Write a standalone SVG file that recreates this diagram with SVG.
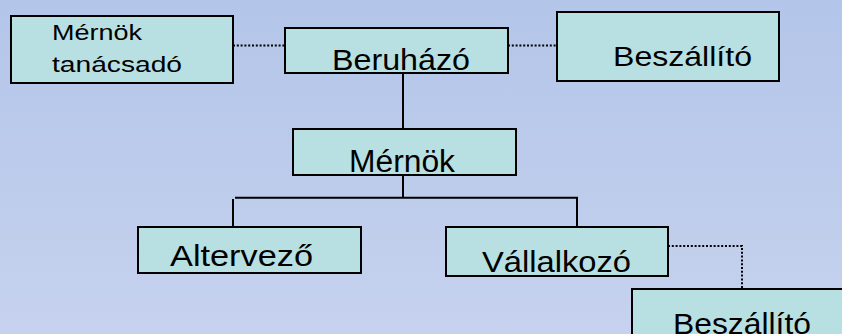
<svg xmlns="http://www.w3.org/2000/svg" width="842" height="334" viewBox="0 0 842 334">
<defs>
<linearGradient id="bg" x1="0" y1="0" x2="0" y2="1">
<stop offset="0" stop-color="#b3c5e9"/>
<stop offset="1" stop-color="#c6d2ee"/>
</linearGradient>
</defs>
<style>
.box{fill:#b8e0e2;stroke:#000;stroke-width:2}
.t{font-family:"Liberation Sans",Arial,sans-serif;fill:#000}
.solid{fill:none;stroke:#000;stroke-width:2}
.dot{fill:none;stroke:#000;stroke-width:2;stroke-dasharray:2 1.8}
</style>
<rect width="842" height="334" fill="url(#bg)"/>
<g id="connectors">
<path class="solid" d="M403 73V129M403 175V198M235 197.7H577V227M233 199V227"/>
<path class="dot" d="M233 45.5H285M508 45.5H557M668 246H742V289"/>
</g>
<g id="mernok-tanacsado">
<rect class="box" x="11" y="16" width="222" height="67"/>
<text class="t" x="52" y="40" font-size="22" textLength="90" lengthAdjust="spacingAndGlyphs">Mérnök</text>
<text class="t" x="52" y="72" font-size="22" textLength="130" lengthAdjust="spacingAndGlyphs">tanácsadó</text>
</g>
<g id="beruhazo">
<rect class="box" x="285" y="28" width="223" height="45"/>
<text class="t" x="332" y="69.5" font-size="30" textLength="138" lengthAdjust="spacingAndGlyphs">Beruházó</text>
</g>
<g id="beszallito-1">
<rect class="box" x="557" y="12" width="222" height="69"/>
<text class="t" x="613" y="66" font-size="27.5" textLength="139" lengthAdjust="spacingAndGlyphs">Beszállító</text>
</g>
<g id="mernok">
<rect class="box" x="293" y="129" width="223" height="46"/>
<text class="t" x="349" y="172" font-size="31" textLength="106" lengthAdjust="spacingAndGlyphs">Mérnök</text>
</g>
<g id="altervezo">
<rect class="box" x="138" y="227" width="223" height="46"/>
<text class="t" x="170" y="266" font-size="29" textLength="143" lengthAdjust="spacingAndGlyphs">Altervező</text>
</g>
<g id="vallalkozo">
<rect class="box" x="446" y="227" width="222" height="49"/>
<text class="t" x="482" y="272" font-size="30" textLength="149" lengthAdjust="spacingAndGlyphs">Vállalkozó</text>
</g>
<g id="beszallito-2">
<rect class="box" x="632" y="289" width="222" height="60"/>
<text class="t" x="673" y="334" font-size="30" textLength="138" lengthAdjust="spacingAndGlyphs">Beszállító</text>
</g>
</svg>
